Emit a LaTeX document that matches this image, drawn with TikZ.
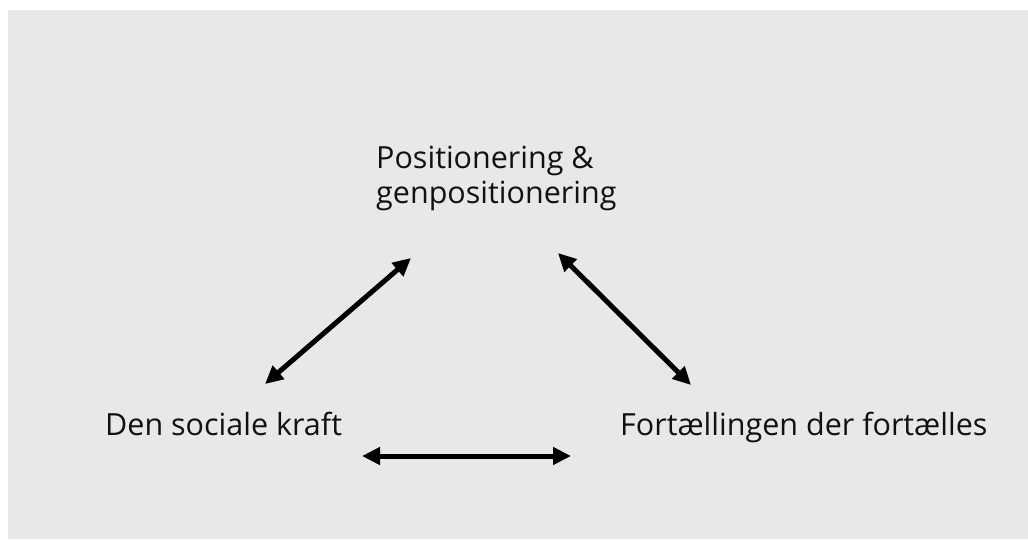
\documentclass[tikz,border=0pt]{standalone}
\usepackage{fontspec}
\setmainfont{Open Sans}
\usetikzlibrary{arrows.meta,calc}
\definecolor{bggray}{HTML}{E8E8E8}
\definecolor{txt}{HTML}{111111}
\tikzset{
  lbl/.style={inner sep=0pt, anchor=base west, text=txt, font=\fontsize{30.5}{34.5}\selectfont, align=left},
  biarrow/.style={line width=5pt, {Triangle[length=18pt,width=17pt]}-{Triangle[length=18pt,width=17pt]}, black}
}
\begin{document}
\begin{tikzpicture}[x=1pt,y=-1pt]
\useasboundingbox (0,0) rectangle (1028,539);
\fill[white] (0,0) rectangle (1028,539);
\fill[bggray] (8,10) rectangle (1028,539);
\node[lbl] (pos) at (376,203) {Positionering \&\\genpositionering};
\node[lbl] (dsk) at (105,435) {Den sociale kraft};
\node[lbl] (frt) at (620,435) {Fortællingen der fortælles};
\draw[biarrow] ($(dsk.base west)+(160,-51)$) -- ($(pos.base west)+(35,55)$);
\draw[biarrow] ($(pos.base west)+(182,50)$) -- ($(frt.base west)+(71,-50)$);
\draw[biarrow] ($(dsk.base west)+(257,21)$) -- ($(frt.base west)+(-49,21)$);
\end{tikzpicture}
\end{document}
